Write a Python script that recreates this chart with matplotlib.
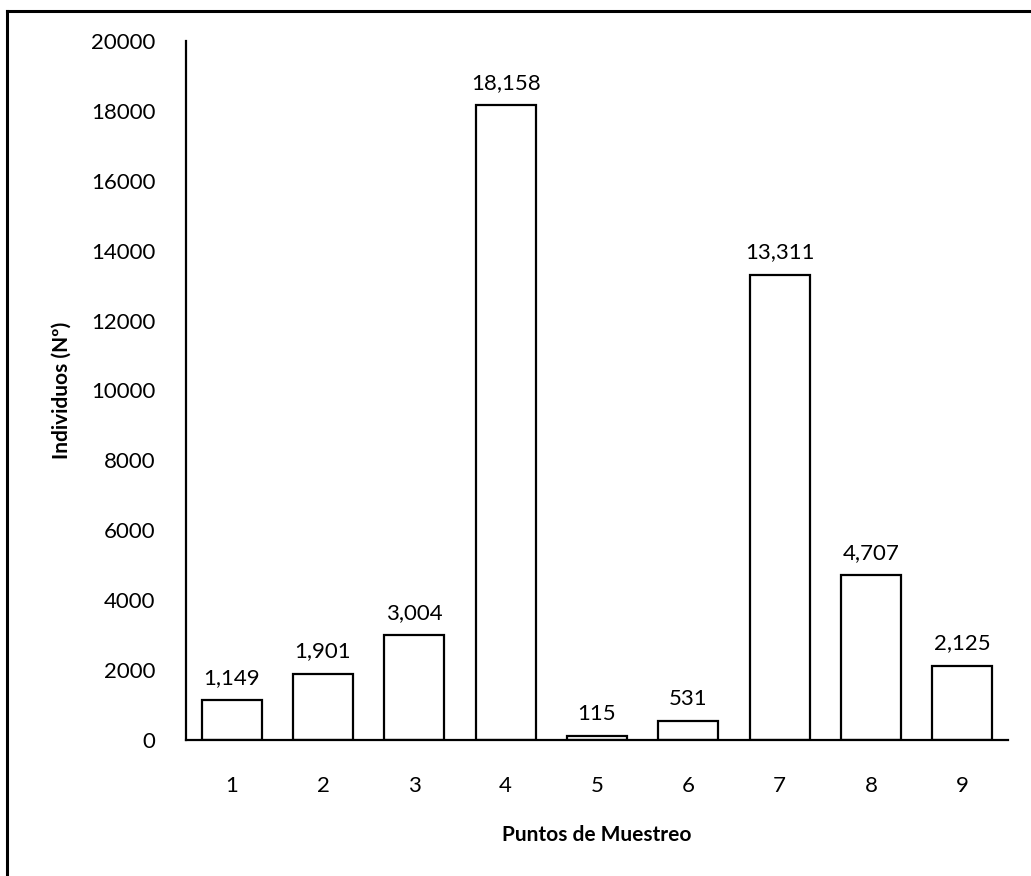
import matplotlib.pyplot as plt
from matplotlib.lines import Line2D

# Individuos por punto de muestreo
puntos = ["1", "2", "3", "4", "5", "6", "7", "8", "9"]
individuos = [1149, 1901, 3004, 18158, 115, 531, 13311, 4707, 2125]
y_ticks = [0, 2000, 4000, 6000, 8000, 10000, 12000, 14000, 16000, 18000, 20000]

plt.rcParams['font.family'] = ['Lato', 'DejaVu Sans']

W, H = 1031, 876
fig = plt.figure(figsize=(W / 100, H / 100), dpi=100)
ax = fig.add_axes([186 / W, 1 - 740 / H, (1008 - 186) / W, (740 - 41) / H])

x = list(range(1, len(puntos) + 1))
ax.bar(x, individuos, width=0.66, color="white", edgecolor="black", linewidth=1.6)

for xi, v in zip(x, individuos):
    ax.text(xi, v + 350, f"{v:,}", ha="center", va="bottom", fontsize=16)

ax.set_xlim(0.5, 9.5)
ax.set_ylim(0, 20000)
ax.set_xticks(x)
ax.set_xticklabels(puntos)
ax.set_yticks(y_ticks)
ax.tick_params(axis="both", length=0, labelsize=16)
ax.tick_params(axis="x", pad=26)
ax.tick_params(axis="y", pad=22)

for s in ["top", "right"]:
    ax.spines[s].set_visible(False)
for s in ["left", "bottom"]:
    ax.spines[s].set_linewidth(1.6)

ax.set_xlabel("Puntos de Muestreo", fontsize=15, fontweight="bold", labelpad=21)
ax.set_ylabel("Individuos (Nº)", fontsize=15, fontweight="bold", labelpad=14)

# marco exterior (solo izquierda y arriba)
fig.add_artist(Line2D([7 / W, 7 / W], [0, 1 - 11 / H], color="black", lw=2.2,
                      transform=fig.transFigure))
fig.add_artist(Line2D([7 / W, 1], [1 - 11 / H, 1 - 11 / H], color="black", lw=2.2,
                      transform=fig.transFigure))

fig.savefig("out.png", dpi=100)
